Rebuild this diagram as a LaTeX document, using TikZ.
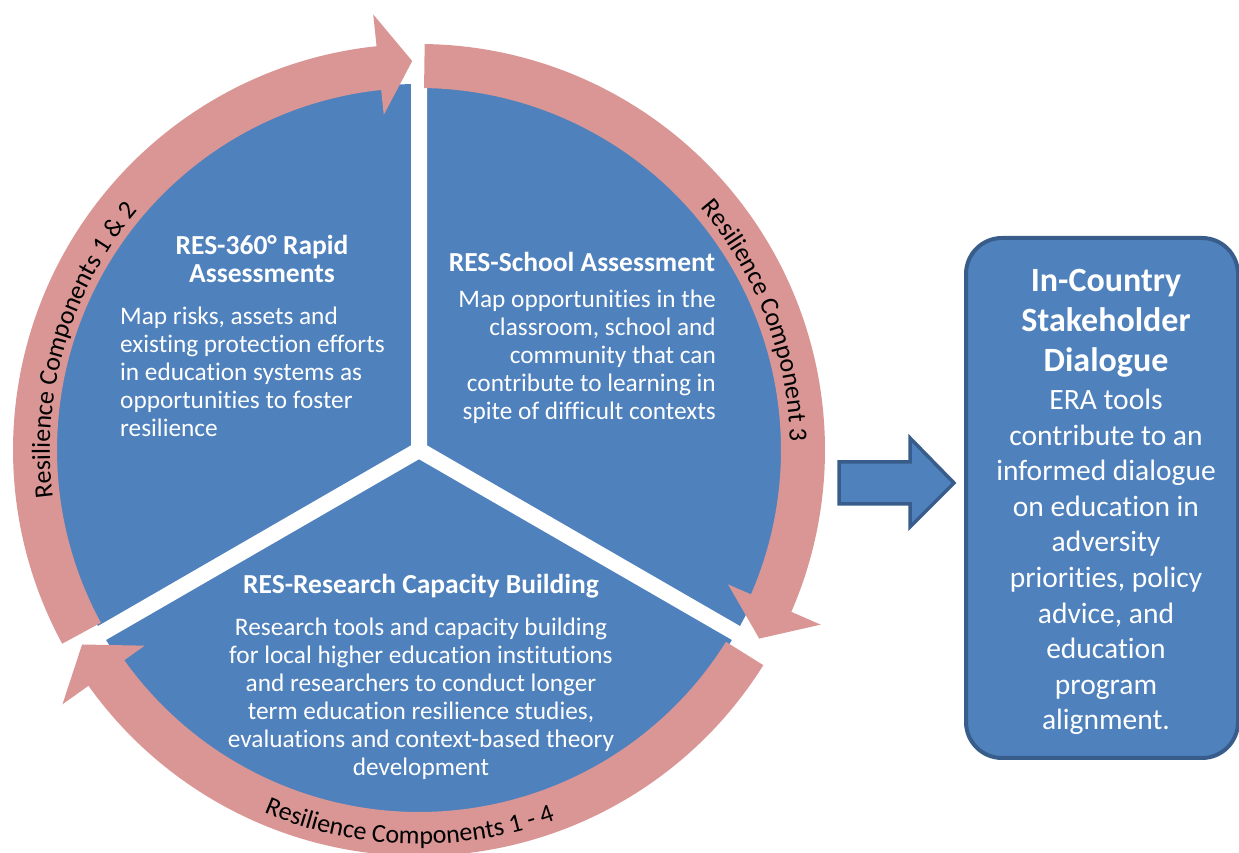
\documentclass[tikz,border=0pt]{standalone}
\usepackage{fontspec}
\setmainfont{Carlito}[Ligatures=NoCommon]
\usepackage{tikz}
\usetikzlibrary{decorations.text}
\definecolor{eraBlue}{HTML}{4F81BD}
\definecolor{eraPink}{HTML}{D99694}
\definecolor{eraEdge}{HTML}{385D8A}
\newcommand{\ringfont}{\fontsize{26}{26}\selectfont}
\tikzset{%
  gapline/.style={white, line width=16pt, line cap=round},
  headtext/.style={text=white, font=\fontsize{27.5}{28}\selectfont\bfseries, align=center, inner sep=0pt},
  bodytext/.style={text=white, font=\fontsize{25.3}{28}\selectfont, inner sep=0pt},
  ringlabel/.style={decorate, decoration={text along path, text align=center}},
  boxtitle/.style={text=white, font=\fontsize{34}{40}\selectfont\bfseries, align=center, inner sep=0pt},
  boxbody/.style={text=white, font=\fontsize{29.5}{35.6}\selectfont, align=center, inner sep=0pt}
}
% tail angle, head base angle, tip angle
\newcommand{\ringarrow}[3]{%
  \fill[eraPink] (#1:406pt) arc[start angle=#1, end angle=#2, radius=406pt]
    -- (#2:438pt) -- (#3:389pt) -- (#2:337pt) -- (#2:362pt)
    arc[start angle=#2, end angle=#1, radius=362pt] -- cycle;}

\begin{document}
\begin{tikzpicture}[x=1pt,y=1pt]
\useasboundingbox (0,0) rectangle (1239,853);
\begin{scope}[shift={(419,403)}]
\fill[eraBlue] (0,0) circle (366pt);
\draw[gapline] (90:375pt) -- (0,0) -- (210:378pt);
\draw[gapline] (0,0) -- (-30:380pt);
\ringarrow{208.5}{96}{91}
\ringarrow{89.2}{-23.5}{-29}
\ringarrow{-32}{-144.5}{-150}
\path[ringlabel, decoration={text={|\ringfont|Resilience Components 1 {\&} 2}}] (205:369pt) arc[start angle=205, end angle=122, radius=369pt];
\path[ringlabel, decoration={text={|\ringfont|Resilience Component 3}}] (62:371pt) arc[start angle=62, end angle=-20, radius=371pt];
\path[ringlabel, decoration={text={|\ringfont|Resilience Components 1 - 4}}] (226:394pt) arc[start angle=226, end angle=311, radius=394pt];
\end{scope}
\node[headtext] (h360) at (262,594) {RES-360° Rapid\\Assessments};
\node[bodytext, align=left, anchor=west] (b360) at (120,481) {Map risks, assets and\\existing protection efforts\\in education systems as\\opportunities to foster\\resilience};
\node[headtext] (hschool) at (582,591) {RES-School Assessment};
\node[bodytext, align=right, anchor=east] (bschool) at (716,496) {Map opportunities in the\\classroom, school and\\community that can\\contribute to learning in\\spite of difficult contexts};
\node[headtext] (hresearch) at (421,267) {RES-Research Capacity Building};
\node[bodytext, align=center] (bresearch) at (421,154) {Research tools and capacity building\\for local higher education institutions\\and researchers to conduct longer\\term education resilience studies,\\evaluations and context-based theory\\development};
% big arrow to the dialogue box
\filldraw[fill=eraBlue, draw=eraEdge, line width=3.5pt, line join=miter] (839,391) -- (910,391) -- (910,415) -- (954,370) -- (910,326) -- (910,349) -- (839,349) -- cycle;
\node[draw=eraEdge, line width=4pt, fill=eraBlue, rounded corners=36pt, minimum width=272pt, minimum height=520pt] (dialogue) at (1102,355) {};
\node[boxtitle] (dtitle) at (1106,530) {In-Country\\Stakeholder\\Dialogue};
\node[boxbody] (dbody) at (1106,291) {ERA tools\\contribute to an\\informed dialogue\\on education in\\adversity\\priorities, policy\\advice, and\\education\\program\\alignment.};
\end{tikzpicture}
\end{document}
